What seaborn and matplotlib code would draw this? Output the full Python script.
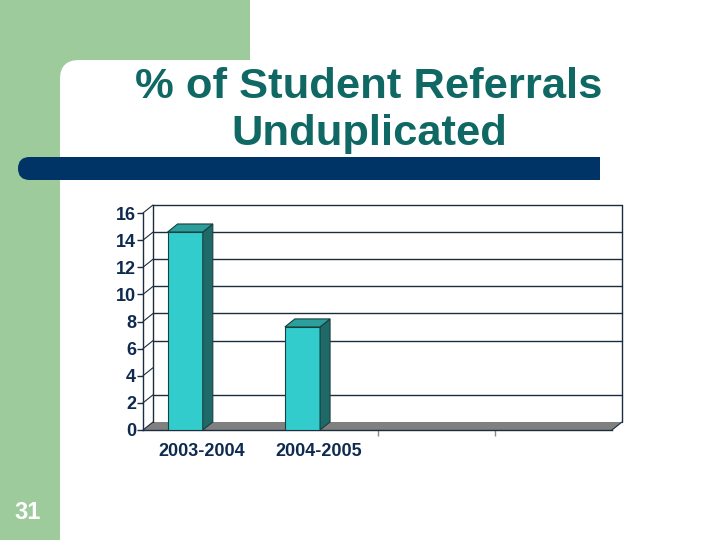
import numpy as np
import matplotlib
matplotlib.use('Agg')
import matplotlib.pyplot as plt
from matplotlib.patches import Rectangle, FancyBboxPatch, Polygon
import seaborn as sns

# data
years = ['2003-2004', '2004-2005']
pct_unduplicated = [14.6, 7.6]
y_ticks = [0, 2, 4, 6, 8, 10, 12, 14, 16]
grid_levels = [2, 6, 8, 10, 12, 14, 16]   # the 4 line is missing on the slide
title_lines = ['% of Student Referrals', 'Unduplicated']
slide_no = '31'

sns.set_style('white')
plt.rcParams['font.family'] = ['Liberation Sans', 'DejaVu Sans']

GREEN = '#9dcb9b'
NAVY_BAR = '#003366'
TITLE_COL = '#0f6863'
TXT = '#0f2a4f'
LINE = '#1c2e3e'

fig = plt.figure(figsize=(7.2, 5.4), dpi=100)
fig.patch.set_facecolor('white')

# slide background, drawn in pixel coordinates
bg = fig.add_axes([0, 0, 1, 1], zorder=0)
bg.set_xlim(0, 720)
bg.set_ylim(540, 0)
bg.axis('off')
bg.add_patch(Rectangle((0, 0), 60, 540, color=GREEN, lw=0))
bg.add_patch(Rectangle((0, 0), 250, 110, color=GREEN, lw=0))
bg.add_patch(FancyBboxPatch((60, 60), 700, 520, boxstyle='round,pad=0,rounding_size=19',
                            color='white', lw=0))
bg.add_patch(FancyBboxPatch((18, 157), 582, 23, boxstyle='round,pad=0,rounding_size=11.5',
                            color=NAVY_BAR, lw=0))
bg.add_patch(Rectangle((560, 157), 40, 23, color=NAVY_BAR, lw=0))

fig.text(369 / 720, 1 - 98 / 540, title_lines[0], ha='center', va='baseline',
         fontsize=31.3, fontweight='bold', color=TITLE_COL)
fig.text(369 / 720, 1 - 145 / 540, title_lines[1], ha='center', va='baseline',
         fontsize=31.3, fontweight='bold', color=TITLE_COL)
fig.text(28 / 720, 1 - 519 / 540, slide_no, ha='center', va='baseline',
         fontsize=17, fontweight='bold', color='white')

# chart (front plane of the 3d box)
ax = fig.add_axes([143 / 720, 110 / 540, 469 / 720, 217 / 540], zorder=2)
ax.patch.set_alpha(0)
sns.barplot(x=years, y=pct_unduplicated, color='#33cccc', saturation=1, width=0.30,
            edgecolor='#17403f', linewidth=0.8, ax=ax, zorder=5)
ax.set_xlim(-0.5, 3.5)
ax.set_ylim(0, 16)

dx = 10 / 117.25
dy = 0.59
x0, x1 = -0.5, 3.5

# floor
ax.add_patch(Polygon([(x0, 0), (x1, 0), (x1 + dx, dy), (x0 + dx, dy)], closed=True,
                     facecolor='#808080', edgecolor='none', clip_on=False, zorder=1))
# back wall grid and edges
for v in grid_levels:
    ax.plot([x0 + dx, x1 + dx], [v + dy, v + dy], color=LINE, lw=1, clip_on=False, zorder=2)
for xe in (x0 + dx, x1 + dx):
    ax.plot([xe, xe], [dy, 16 + dy], color=LINE, lw=1, clip_on=False, zorder=2)
for v in y_ticks:
    ax.plot([x0, x0 + dx], [v, v + dy], color=LINE, lw=0.8, clip_on=False, zorder=2)
ax.plot([x1, x1 + dx], [0, dy], color=LINE, lw=0.8, clip_on=False, zorder=2)

# 3d faces of the bars, built on the patches seaborn drew
for p in ax.patches:
    if not isinstance(p, Rectangle):
        continue
    p.set_x(p.get_x() - 0.14)
    bx0, bx1, h = p.get_x(), p.get_x() + p.get_width(), p.get_height()
    ax.add_patch(Polygon([(bx1, 0), (bx1 + dx, dy), (bx1 + dx, h + dy), (bx1, h)],
                         closed=True, facecolor='#1f6a68', edgecolor='#17403f',
                         lw=0.8, clip_on=False, zorder=6))
    ax.add_patch(Polygon([(bx0, h), (bx0 + dx, h + dy), (bx1 + dx, h + dy), (bx1, h)],
                         closed=True, facecolor='#2a9f9c', edgecolor='#17403f',
                         lw=0.8, clip_on=False, zorder=6))

for s in ('top', 'right'):
    ax.spines[s].set_visible(False)
ax.spines['left'].set_color(LINE)
ax.spines['bottom'].set_color(LINE)
ax.spines['left'].set_linewidth(1)
ax.spines['bottom'].set_linewidth(1)

ax.set_yticks(y_ticks)
ax.set_yticklabels([str(t) for t in y_ticks], fontsize=13, fontweight='bold', color=TXT)
ax.tick_params(axis='y', length=4, width=1, color=LINE, pad=1, left=True)
ax.set_xticks([0, 1])
ax.set_xticklabels(years, fontsize=13, fontweight='bold', color=TXT)
ax.tick_params(axis='x', length=0, pad=9)
ax.set_xticks([1.5, 2.5], minor=True)
ax.tick_params(axis='x', which='minor', length=4, width=1, color='#8a8a8a', bottom=True)
ax.set_xlabel('')
ax.set_ylabel('')

fig.savefig('out.png', dpi=100)
